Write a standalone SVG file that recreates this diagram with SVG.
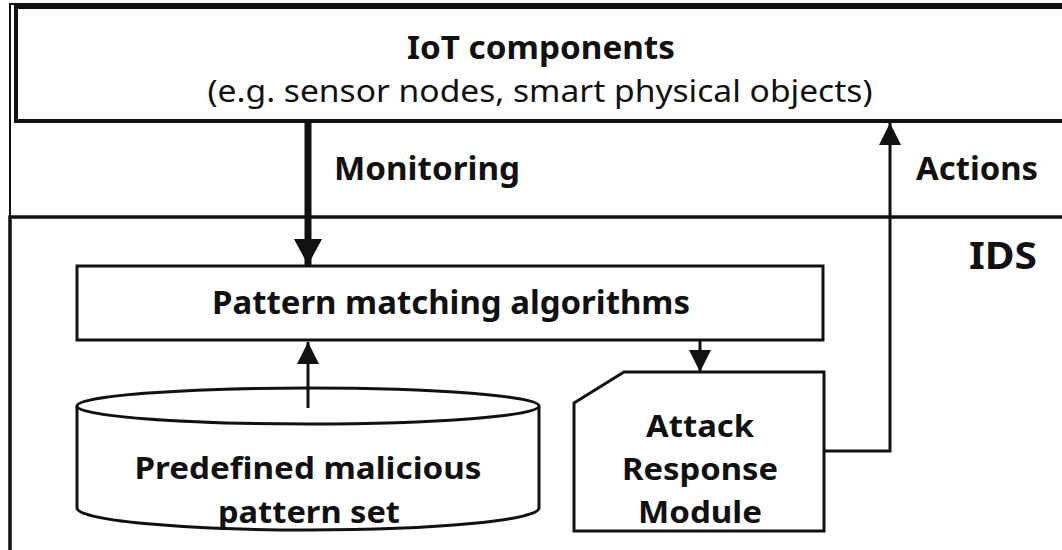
<svg xmlns="http://www.w3.org/2000/svg" width="1062" height="550" viewBox="0 0 1062 550">
<defs>
<style>
.box{fill:#fff;stroke:#111;stroke-width:3}
.ln{fill:none;stroke:#111;stroke-width:3}
.b{font-family:"Noto Sans","Open Sans","Liberation Sans",sans-serif;font-weight:bold;font-size:33px;fill:#111;text-anchor:middle}
.m{font-size:31px}
.r{font-family:"Noto Sans","Open Sans","Liberation Sans",sans-serif;font-size:31px;fill:#111;text-anchor:middle}
</style>
<marker id="ah" markerWidth="24" markerHeight="22" refX="22" refY="11" orient="auto" markerUnits="userSpaceOnUse">
<path d="M0,0 L22,11 L0,22 Z" fill="#111"/>
</marker>
<marker id="ahb" markerWidth="26" markerHeight="28" refX="26" refY="14" orient="auto" markerUnits="userSpaceOnUse">
<path d="M0,0 L26,14 L0,28 Z" fill="#111"/>
</marker>
</defs>
<rect width="1062" height="550" fill="#fff"/>
<g id="frame">
<path d="M10,550 V4 H1062" class="ln" style="stroke-width:2"/>
</g>
<g id="iot">
<rect x="16" y="7" width="1060" height="114" class="box" style="stroke-width:4"/>
<text x="541" y="59" class="b" textLength="268" lengthAdjust="spacingAndGlyphs">IoT components</text>
<text x="540" y="102" class="r" textLength="665" lengthAdjust="spacingAndGlyphs">(e.g. sensor nodes, smart physical objects)</text>
</g>
<g id="ids">
<path d="M10,550 V217 H1062" class="ln" style="stroke-width:3.5"/>
<text x="1003" y="269" class="b" style="font-size:37px" textLength="68" lengthAdjust="spacingAndGlyphs">IDS</text>
</g>
<g id="pattern">
<rect x="77" y="266" width="746" height="74" class="box"/>
<text x="451" y="314" class="b" textLength="478" lengthAdjust="spacingAndGlyphs">Pattern matching algorithms</text>
</g>
<g id="db">
<path d="M77,406 V508 A231,22 0 0 0 539,508 V406" class="box"/>
<ellipse cx="308" cy="406" rx="231" ry="18" class="box"/>
<text x="308" y="479" class="b m" textLength="347" lengthAdjust="spacingAndGlyphs">Predefined malicious</text>
<text x="309" y="523" class="b m" textLength="182" lengthAdjust="spacingAndGlyphs">pattern set</text>
</g>
<g id="attack">
<path d="M574,403 L624,372 H824 V531 H574 Z" class="box"/>
<text x="700" y="437" class="b m" textLength="108" lengthAdjust="spacingAndGlyphs">Attack</text>
<text x="700" y="480" class="b m" textLength="156" lengthAdjust="spacingAndGlyphs">Response</text>
<text x="700" y="523" class="b m" textLength="124" lengthAdjust="spacingAndGlyphs">Module</text>
</g>
<g id="connectors">
<line x1="308" y1="121" x2="308" y2="265" class="ln" style="stroke-width:7" marker-end="url(#ahb)"/>
<text x="427" y="180" class="b" textLength="186" lengthAdjust="spacingAndGlyphs">Monitoring</text>
<path d="M824,451 H890 V123" class="ln" marker-end="url(#ah)"/>
<text x="977" y="180" class="b" textLength="122" lengthAdjust="spacingAndGlyphs">Actions</text>
<line x1="308" y1="408" x2="308" y2="342" class="ln" marker-end="url(#ah)"/>
<line x1="700" y1="340" x2="700" y2="372" class="ln" marker-end="url(#ah)"/>
</g>
</svg>
